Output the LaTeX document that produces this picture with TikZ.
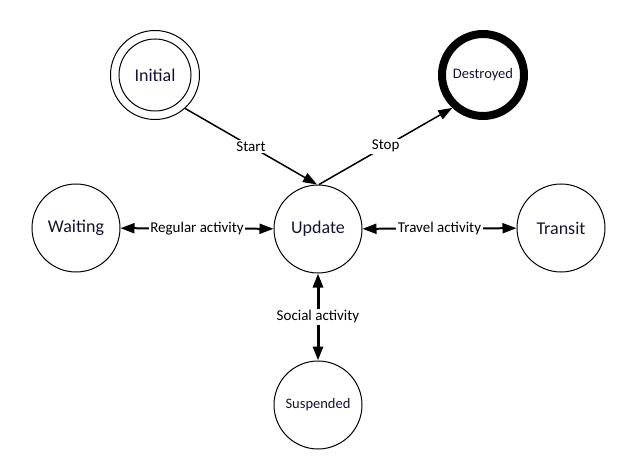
\documentclass[tikz,border=0pt]{standalone}
\usepackage{fontspec}
\setmainfont{Carlito}
\usetikzlibrary{arrows.meta}
\definecolor{txt}{RGB}{20,20,50}
\tikzset{
  state/.style={circle, draw=black, line width=1pt, minimum size=88pt, inner sep=0pt, text=txt, font=\fontsize{18}{20}\selectfont},
  smallstate/.style={state, font=\fontsize{14.5}{16}\selectfont},
  conn/.style={draw=black, line width=2pt},
  tip/.style={-{Triangle[length=14pt,width=10pt]}},
  dtip/.style={{Triangle[length=14pt,width=10pt]}-{Triangle[length=14pt,width=10pt]}},
  lbl/.style={fill=white, inner sep=1.5pt, text=black, font=\fontsize{15}{17}\selectfont}
}
\begin{document}
\begin{tikzpicture}[x=1pt,y=-1pt]
\useasboundingbox (0,0) rectangle (638,468);
\node[state, minimum size=72pt] (init) at (155,75) {Initial};
\draw[line width=1pt] (init.center) circle[radius=44.5];
\node[state, minimum size=89pt, draw=none] (initout) at (155,75) {};
\node[smallstate, minimum size=82pt, line width=8pt] (dest) at (483,75) {Destroyed};
\node[state] (upd) at (318,229) {Update};
\node[state] (wait) at (76,228) {Waiting};
\node[state] (trans) at (561,228) {Transit};
\node[smallstate] (susp) at (318,405) {Suspended};
\draw[conn, line width=1.5pt, tip] (initout.-48) -- node[lbl, pos=0.5]{Start} ([xshift=-1pt]upd.north);
\draw[conn, line width=1.5pt, tip] ([xshift=1pt]upd.north) -- node[lbl, pos=0.5]{Stop} (dest.227);
\draw[conn, dtip] (wait) -- node[lbl]{Regular activity} (upd);
\draw[conn, dtip] (upd) -- node[lbl]{Travel activity} (trans);
\draw[conn, line width=3pt, dtip] (upd) -- node[lbl]{Social activity} (susp);
\end{tikzpicture}
\end{document}
